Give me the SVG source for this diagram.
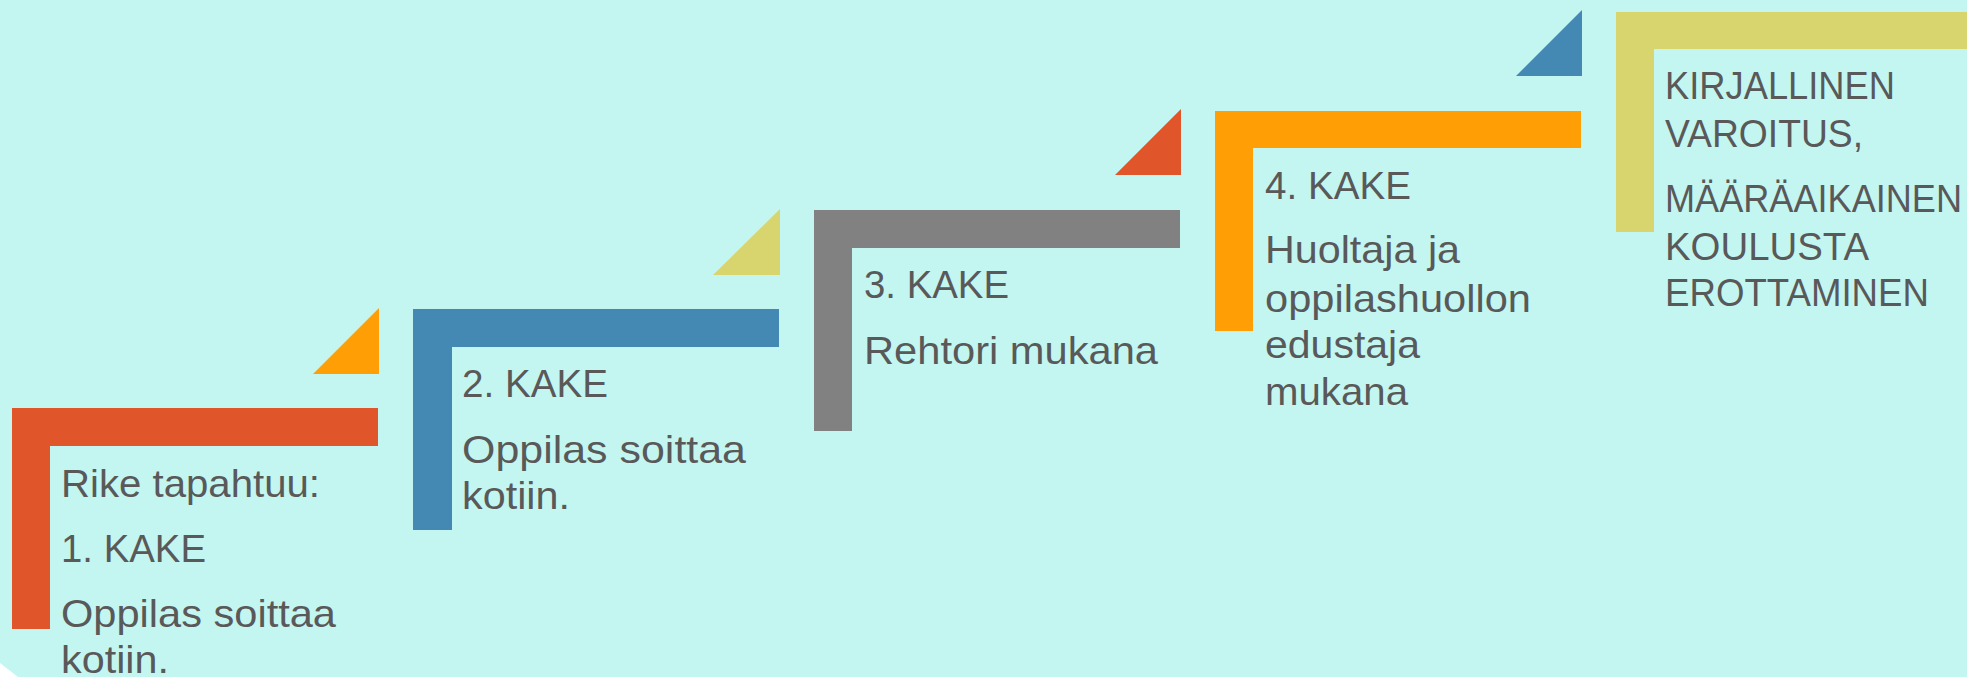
<svg xmlns="http://www.w3.org/2000/svg" width="1967" height="677" viewBox="0 0 1967 677">
<style>
.t{font-family:"Liberation Sans",Arial,sans-serif;font-size:39px;fill:#595959}
.red{fill:#E0552A}.org{fill:#FF9E05}.yel{fill:#D9D56E}.blu{fill:#4389B3}.gry{fill:#818181}
</style>
<rect width="1967" height="677" fill="#C4F6F1"/>
<polygon points="0,663 18,677 0,677" fill="#FFFFFF"/>
<g id="connectors"/>
<g id="step1">
<path class="red" d="M12,408H378V446H50V629H12Z"/>
<polygon class="org" points="379,308 379,374 313,374"/>
<text class="t" x="61" y="497" textLength="259" lengthAdjust="spacingAndGlyphs">Rike tapahtuu:</text>
<text class="t" x="61" y="562" textLength="145" lengthAdjust="spacingAndGlyphs">1. KAKE</text>
<text class="t" x="61" y="627" textLength="275" lengthAdjust="spacingAndGlyphs">Oppilas soittaa</text>
<text class="t" x="61" y="673" textLength="108" lengthAdjust="spacingAndGlyphs">kotiin.</text>
</g>
<g id="step2">
<path class="blu" d="M413,309H779V347H452V530H413Z"/>
<polygon class="yel" points="780,209 780,275 713,275"/>
<text class="t" x="462" y="397" textLength="146" lengthAdjust="spacingAndGlyphs">2. KAKE</text>
<text class="t" x="462" y="463" textLength="284" lengthAdjust="spacingAndGlyphs">Oppilas  soittaa</text>
<text class="t" x="462" y="509" textLength="108" lengthAdjust="spacingAndGlyphs">kotiin.</text>
</g>
<g id="step3">
<path class="gry" d="M814,210H1180V248H852V431H814Z"/>
<polygon class="red" points="1181,109 1181,175 1115,175"/>
<text class="t" x="864" y="298" textLength="145" lengthAdjust="spacingAndGlyphs">3. KAKE</text>
<text class="t" x="864" y="364" textLength="294" lengthAdjust="spacingAndGlyphs">Rehtori  mukana</text>
</g>
<g id="step4">
<path class="org" d="M1215,111H1581V148H1253V331H1215Z"/>
<polygon class="blu" points="1582,10 1582,76 1516,76"/>
<text class="t" x="1265" y="199" textLength="146" lengthAdjust="spacingAndGlyphs">4. KAKE</text>
<text class="t" x="1265" y="263" textLength="195" lengthAdjust="spacingAndGlyphs">Huoltaja ja</text>
<text class="t" x="1265" y="312" textLength="266" lengthAdjust="spacingAndGlyphs">oppilashuollon</text>
<text class="t" x="1265" y="358" textLength="155" lengthAdjust="spacingAndGlyphs">edustaja</text>
<text class="t" x="1265" y="405" textLength="143" lengthAdjust="spacingAndGlyphs">mukana</text>
</g>
<g id="step5">
<path class="yel" d="M1616,12H1967V49H1654V232H1616Z"/>
<text class="t" x="1665" y="99" textLength="230" lengthAdjust="spacingAndGlyphs">KIRJALLINEN</text>
<text class="t" x="1665" y="147" textLength="198" lengthAdjust="spacingAndGlyphs">VAROITUS,</text>
<text class="t" x="1665" y="212" textLength="297" lengthAdjust="spacingAndGlyphs">MÄÄRÄAIKAINEN</text>
<text class="t" x="1665" y="260" textLength="204" lengthAdjust="spacingAndGlyphs">KOULUSTA</text>
<text class="t" x="1665" y="306" textLength="264" lengthAdjust="spacingAndGlyphs">EROTTAMINEN</text>
</g>
</svg>
